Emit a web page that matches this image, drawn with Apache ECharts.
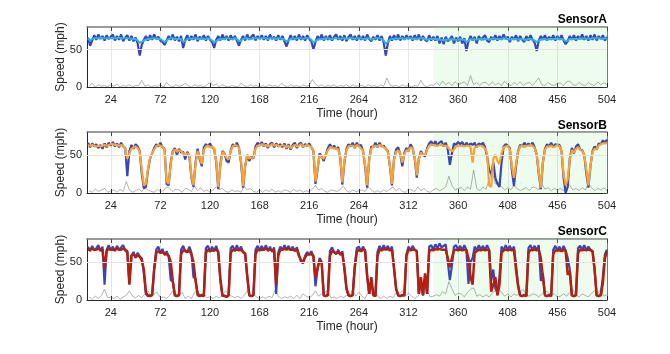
<!DOCTYPE html>
<html>
<head>
<meta charset="utf-8">
<title>Sensor speed</title>
<script src="https://cdn.jsdelivr.net/npm/echarts@6/dist/echarts.min.js"></script>
<style>
    html, body { margin: 0; padding: 0; background: #fff; }
    #chart { width: 670px; height: 354px; }
</style>
</head>
<body>
<div id="chart"></div>
<script>
    // panel titles and axis ticks
    const sensorNames = ['SensorA', 'SensorB', 'SensorC'];
    const xTicks = [24, 72, 120, 168, 216, 264, 312, 360, 408, 456, 504];
    const yTicks = [0, 50];
    const testStart = 336;
    const testEnd = 504;

    // speed lines are sampled every 2 h, the gray error every 3 h
    const speedStep = 2;
    const errorStep = 3;

    // SensorA
    const sensorA_true = [
        66,55,62,69,63,70,64,68,62,69,64,67, 70,62,68,63,70,61,66,69,62,68,61,66,
        58,42,56,63,68,62,69,63,70,64,67,62, 60,56,62,68,63,70,62,67,61,68,52,63,
        69,62,68,63,70,61,67,64,69,62,68,63, 60,52,63,68,62,70,63,68,62,69,63,68,
        62,55,63,68,62,70,63,67,70,62,68,64, 69,63,68,62,70,64,67,62,69,63,68,61,
        54,62,69,63,68,62,70,63,68,62,69,64, 61,50,60,68,63,70,62,68,63,69,62,67,
        70,63,68,62,69,61,67,70,63,68,62,69, 63,68,62,70,64,61,67,63,69,62,68,59,
        42,58,68,62,69,63,70,62,68,63,69,64, 68,62,69,63,70,62,68,63,61,69,62,67,
        62,68,58,66,57,67,61,64,68,58,66,61, 67,58,65,48,61,68,62,67,58,68,63,66,
        69,62,60,67,63,69,62,68,63,70,64,67, 60,67,63,69,61,68,63,60,68,62,69,63,
        59,48,62,68,63,69,62,67,63,69,62,68, 63,69,62,57,61,68,63,69,62,68,64,70,
        63,68,62,69,63,70,62,68,64,69,62,67
    ];
    const sensorA_pred = [
        65,62,64,65,65,65,66,65,65,65,65,65, 65,65,65,66,65,65,65,65,65,64,64,64,
        62,59,60,62,63,64,64,65,65,65,64,64, 62,60,62,64,65,65,64,64,64,64,60,62,
        64,65,64,65,65,64,64,65,64,64,65,64, 62,60,61,63,64,64,64,65,65,64,64,65,
        64,61,62,64,65,65,64,64,65,65,65,65, 65,65,65,64,65,65,65,64,65,65,64,63,
        61,62,64,65,64,65,65,65,64,65,65,65, 63,59,61,63,64,64,64,65,65,64,64,65,
        65,65,64,65,65,64,65,65,65,64,65,65, 65,64,64,65,65,63,64,65,65,65,64,62,
        58,60,63,64,64,65,64,65,65,64,65,65, 65,64,65,64,65,65,65,64,63,64,64,64,
        64,64,63,63,62,63,63,63,64,63,63,63, 64,63,63,60,62,64,63,64,63,64,64,63,
        64,64,63,64,65,64,64,64,64,65,65,64, 63,64,64,64,63,64,64,63,63,64,64,63,
        62,60,62,63,64,64,63,64,64,64,64,65, 64,64,63,61,62,64,64,64,64,64,65,64,
        65,64,65,64,65,65,65,65,65,64,65,65
    ];
    const sensorA_err = [
        1,5,0,3,1,2,0,3, 1,4,0,2,1,3,0,2, 2,9,1,3,0,2,1,3, 0,6,2,0,3,1,2,5,
        2,0,3,1,2,0,3,6, 2,4,0,3,1,0,2,1, 0,5,2,0,3,1,2,0, 2,0,3,1,2,0,5,2,
        0,3,1,2,0,3,1,2, 10,4,1,3,0,2,1,3, 0,2,1,3,0,3,1,2, 2,0,3,1,2,0,3,1,
        12,3,1,2,0,3,1,2, 0,2,1,9,2,0,3,2, 6,2,8,3,6,2,7,3, 5,7,2,15,3,6,2,6,
        6,2,7,3,5,2,8,3, 2,6,3,7,2,5,6,2, 7,12,3,2,6,3,2,5, 5,2,7,8,3,2,6,3,
        2,6,3,2,7,3,6,3
    ];

    // SensorB
    const sensorB_true = [
        66,60,65,61,64,59,63,58,65,60,66,62, 67,61,65,60,66,61,59,22,55,63,58,64,
        61,55,25,6,8,30,45,52,59,64,61,66,   60,58,12,10,40,55,59,50,58,53,54,44,
        54,48,20,8,40,58,45,35,60,64,61,65,  60,58,40,5,38,55,52,42,40,56,64,61,
        66,59,40,7,35,50,42,48,45,61,66,62,  67,61,65,59,64,66,60,65,61,64,60,65,
        58,64,57,63,66,59,64,66,60,64,62,65, 60,55,12,30,52,48,42,50,59,64,59,62,
        58,60,45,11,40,58,64,61,66,59,66,61, 63,55,35,7,45,61,60,66,60,66,61,62,
        58,55,35,10,45,57,60,51,35,53,59,55, 64,59,45,20,45,55,50,48,59,65,68,63,
        68,62,66,68,61,66,57,37,52,65,63,67, 64,67,61,66,62,65,63,66,60,65,63,66,
        60,48,30,25,40,20,12,8,40,61,64,62,  59,30,9,35,55,63,61,66,62,65,62,66,
        60,50,25,5,40,58,64,61,66,60,64,63,  63,55,20,0,8,45,59,52,61,64,57,56,
        50,25,7,35,55,61,57,65,64,69,66,70
    ];
    const sensorB_pred = [
        63,62,63,62,61,62,61,62,63,62,63,64, 64,63,63,62,63,62,58,45,52,58,60,61,
        59,54,30,10,12,32,46,52,57,61,63,62, 61,57,15,12,38,54,57,54,56,55,52,50,
        52,50,22,10,38,55,47,38,56,61,62,60, 61,58,42,8,35,54,52,46,44,55,61,63,
        62,59,42,9,36,50,45,47,46,58,62,63,  64,62,63,61,62,64,62,63,62,61,63,62,
        60,62,59,61,63,61,62,64,61,62,63,62, 60,56,15,32,50,47,45,50,56,60,60,58,
        59,57,47,14,42,56,61,62,62,60,63,61, 59,55,38,10,44,58,61,62,61,63,62,60,
        58,54,37,12,44,54,56,52,40,51,56,56, 60,59,47,23,44,53,50,50,57,62,63,63,
        62,62,63,63,62,62,60,57,55,57,61,62, 62,62,61,62,62,60,40,60,61,62,62,61,
        58,52,10,8,45,50,42,38,52,60,61,62,  57,35,20,38,54,61,62,60,62,62,63,62,
        59,50,28,7,40,57,61,61,62,60,61,63,  61,55,25,10,18,44,56,53,58,60,57,55,
        50,30,10,36,54,58,58,62,64,65,65,66
    ];
    const sensorB_err = [
        3,1,5,2,4,6,1,3, 4,1,5,2,15,4,1,3, 5,2,8,4,2,1,5,2, 3,8,6,2,5,4,1,6,
        5,2,9,3,7,2,4,1, 4,8,5,6,2,1,4,2, 3,1,9,4,6,2,1,4, 1,4,2,5,1,3,1,4,
        3,1,5,2,4,1,3,1, 5,10,4,6,2,1,4,3, 2,5,9,3,1,4,2,3, 4,2,8,4,1,3,1,4,
        2,5,8,3,6,2,1,5, 4,2,8,3,6,2,1,4, 6,3,5,8,22,10,4,6, 7,3,8,5,30,6,3,8,
        5,18,28,12,14,8,4,7, 4,10,6,3,5,7,3,8, 7,4,12,5,7,3,6,4, 6,3,14,10,4,6,3,7,
        4,12,7,3,6,4,7,3
    ];

    // SensorC
    const sensorC_true = [
        70,64,71,65,68,72,64,70,20,66,72,65, 70,64,71,66,69,72,65,62,22,58,63,55,
        62,57,55,35,8,5,6,7,42,66,70,61,     67,59,64,57,26,24,6,5,7,66,71,64,
        62,70,62,30,28,6,5,7,5,68,71,63,     70,64,71,62,25,5,6,4,7,68,71,64,
        72,65,70,62,62,30,6,5,7,66,71,65,    71,65,72,64,70,63,69,8,62,70,65,72,
        66,71,65,70,64,69,60,50,48,58,63,59, 64,57,18,40,55,50,6,5,8,64,69,63,
        60,66,59,64,40,15,6,5,7,45,68,70,    64,70,65,30,8,25,7,5,63,71,65,72,
        66,71,65,70,40,15,6,5,7,6,60,70,     65,71,66,64,8,25,6,30,8,70,72,66,
        73,68,74,69,71,73,50,26,45,70,72,66, 71,65,72,66,21,50,55,70,65,72,66,71,
        65,72,66,25,40,15,10,30,70,65,72,66, 71,65,70,45,20,6,5,7,5,68,72,66,
        71,65,72,25,35,6,5,7,6,66,71,65,     70,64,71,65,55,40,6,5,7,68,71,66,
        72,65,70,66,64,40,6,5,8,30,60,66
    ];
    const sensorC_pred = [
        66,66,67,66,66,67,66,66,41,64,67,66, 66,66,67,66,66,67,66,64,20,58,60,57,
        58,57,52,40,10,6,5,6,40,62,64,62,    63,60,60,58,50,25,6,5,6,60,65,65,
        63,65,60,50,25,8,5,6,5,62,66,64,     65,65,66,63,28,6,5,4,6,62,66,65,
        66,65,66,63,60,32,6,5,6,60,66,65,    66,66,67,66,66,65,65,20,58,66,66,67,
        66,67,66,66,65,66,58,52,50,56,60,60, 60,58,30,42,52,48,6,5,6,58,64,63,
        61,63,60,61,42,15,6,5,6,42,63,66,    64,66,65,32,8,30,6,5,58,66,65,67,
        66,67,65,66,42,15,6,5,6,6,58,66,     65,66,66,64,8,30,6,35,8,64,66,65,
        67,66,67,66,66,66,55,43,55,65,66,65, 66,65,66,65,55,30,20,62,64,66,65,66,
        65,66,65,11,20,30,6,20,62,65,66,65,  66,65,66,40,18,6,5,6,5,62,66,65,
        66,65,66,55,30,6,5,6,5,60,65,65,     65,64,66,64,33,38,6,5,6,62,66,65,
        66,65,66,65,64,40,6,5,6,22,55,64
    ];
    const sensorC_err = [
        4,1,5,2,6,14,3,4, 2,5,1,4,6,12,5,3, 6,3,8,12,5,8,10,3, 4,2,6,12,8,5,10,2,
        5,2,10,12,5,8,3,4, 2,5,3,6,12,8,5,3, 5,2,6,12,5,8,4,2, 4,2,5,3,13,5,2,4,
        3,5,2,6,2,8,5,3, 6,12,5,8,10,12,3,4, 2,5,3,6,8,12,5,10, 5,2,10,8,12,5,2,5,
        2,5,3,10,8,12,5,9, 5,2,5,10,8,12,4,5, 7,5,11,8,24,15,6,9, 8,4,10,14,16,5,7,4,
        7,4,9,12,15,10,5,8, 4,8,6,10,14,7,5,8, 7,4,8,12,10,6,8,4, 5,8,5,10,14,7,4,8,
        6,4,9,12,8,14,5,7
    ];

    const panels = [
        { trueVals: sensorA_true, predVals: sensorA_pred, errVals: sensorA_err, predColor: '#2bb3e6', predWidth: 2 },
        { trueVals: sensorB_true, predVals: sensorB_pred, errVals: sensorB_err, predColor: '#f8a332', predWidth: 2.2 },
        { trueVals: sensorC_true, predVals: sensorC_pred, errVals: sensorC_err, predColor: '#b3200f', predWidth: 2.5 }
    ];

    const FONT = '"Liberation Sans", Arial, Helvetica, sans-serif';
    const TRUE_COLOR = '#3c45b5';
    const gridTops = [27, 132, 239];
    const gridHeights = [60, 61, 61];
    const titleTops = [14, 120, 226];

    function toPoints(values, step) {
        return values.map((v, i) => [(i + 1) * step, v]);
    }

    let grids = [], xAxes = [], yAxes = [], series = [], titles = [];

    panels.forEach((p, i) => {
        grids.push({ left: 87, right: 63, top: gridTops[i], height: gridHeights[i] });

        titles.push({
            text: sensorNames[i], right: 63, top: titleTops[i], padding: 0,
            textStyle: { fontFamily: FONT, fontSize: 12, fontWeight: 'bold', color: '#000' }
        });

        // bottom axis with labels
        xAxes.push({
            gridIndex: i, type: 'value', min: 1, max: 504, position: 'bottom',
            name: 'Time (hour)', nameLocation: 'middle', nameGap: 21, nameMoveOverlap: false,
            nameTextStyle: { fontFamily: FONT, fontSize: 12, color: '#262626' },
            axisLine: { onZero: false, lineStyle: { color: '#262626', width: 1 } },
            axisTick: { inside: true, length: 4, customValues: xTicks, lineStyle: { color: '#262626' } },
            axisLabel: { customValues: xTicks, fontFamily: FONT, fontSize: 11, color: '#262626', margin: 7 },
            splitLine: { show: true, lineStyle: { color: '#e4e4e4', width: 1 } }
        });
        // top box edge
        xAxes.push({
            gridIndex: i, type: 'value', min: 1, max: 504, position: 'top',
            axisLine: { onZero: false, lineStyle: { color: '#7a7a7a', width: 1.5 } },
            axisTick: { inside: true, length: 4, customValues: xTicks, lineStyle: { color: '#444' } },
            axisLabel: { show: false },
            splitLine: { show: false }
        });

        yAxes.push({
            gridIndex: i, type: 'value', min: 0, max: 80, position: 'left',
            name: 'Speed (mph)', nameLocation: 'middle', nameGap: 20, nameMoveOverlap: false,
            nameTextStyle: { fontFamily: FONT, fontSize: 12, color: '#262626' },
            axisLine: { show: true, onZero: false, lineStyle: { color: '#262626', width: 1 } },
            axisTick: { show: true, inside: true, length: 4, customValues: yTicks, lineStyle: { color: '#262626' } },
            axisLabel: { customValues: yTicks, fontFamily: FONT, fontSize: 11, color: '#262626', margin: 5 },
            splitLine: { show: false }
        });
        yAxes.push({
            gridIndex: i, type: 'value', min: 0, max: 80, position: 'right',
            axisLine: { show: true, onZero: false, lineStyle: { color: '#7a7a7a', width: 1 } },
            axisTick: { show: true, inside: true, length: 4, customValues: yTicks, lineStyle: { color: '#444' } },
            axisLabel: { show: false },
            splitLine: { show: false }
        });

        // gray error line, carrying the grid line at 50 and the test-period shading
        series.push({
            type: 'line', xAxisIndex: 2 * i, yAxisIndex: 2 * i, z: 1,
            data: toPoints(p.errVals, errorStep), symbol: 'none',
            lineStyle: { color: 'rgba(105,105,105,0.5)', width: 1 },
            markLine: {
                silent: true, symbol: 'none', label: { show: false },
                lineStyle: { color: '#e4e4e4', type: 'solid', width: 1 },
                data: [{ yAxis: 50 }]
            },
            markArea: {
                silent: true,
                itemStyle: { color: 'rgba(170,238,170,0.2)' },
                data: [[{ xAxis: testStart }, { xAxis: testEnd }]]
            }
        });
        series.push({
            type: 'line', xAxisIndex: 2 * i, yAxisIndex: 2 * i, z: 2,
            data: toPoints(p.trueVals, speedStep), symbol: 'none',
            lineStyle: { color: TRUE_COLOR, width: 2.2 }
        });
        series.push({
            type: 'line', xAxisIndex: 2 * i, yAxisIndex: 2 * i, z: 3,
            data: toPoints(p.predVals, speedStep), symbol: 'none',
            lineStyle: { color: p.predColor, width: p.predWidth }
        });
    });

    const chart = echarts.init(document.getElementById('chart'), null, { renderer: 'canvas' });
    chart.setOption({
        animation: false,
        backgroundColor: '#fff',
        title: titles,
        grid: grids,
        xAxis: xAxes,
        yAxis: yAxes,
        series: series
    });
</script>
</body>
</html>
